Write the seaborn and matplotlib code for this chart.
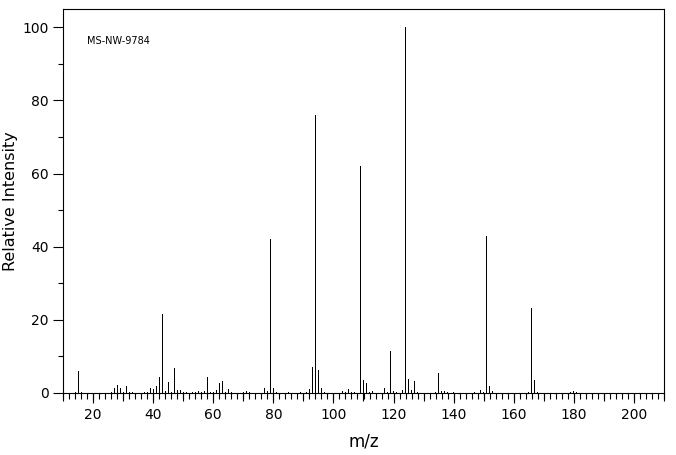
import numpy as np
import pandas as pd
import matplotlib
matplotlib.use("Agg")
import matplotlib.pyplot as plt
import seaborn as sns
from matplotlib.ticker import MultipleLocator

# peak list (m/z, relative intensity %)
mz = [14, 15, 16, 26, 27, 28, 29, 30, 31, 32, 33, 37, 38, 39, 40, 41, 42, 43,
      44, 45, 46, 47, 48, 49, 50, 51, 53, 54, 55, 56, 57, 58, 59, 60, 61, 62,
      63, 64, 65, 66, 70, 71, 72, 77, 78, 79, 80, 81, 85, 89, 91, 92, 93, 94,
      95, 96, 97, 103, 104, 105, 106, 107, 109, 110, 111, 112, 113, 117, 118,
      119, 120, 121, 123, 124, 125, 126, 127, 128, 134, 135, 136, 137, 138,
      140, 147, 149, 150, 151, 152, 153, 165, 166, 167, 168, 179, 180, 181]
intensity = [0.3, 6.0, 0.3, 0.2, 1.4, 2.1, 1.5, 0.2, 1.8, 0.2, 0.2, 0.2, 0.2,
             1.5, 1.1, 1.9, 4.5, 21.5, 0.5, 2.9, 0.2, 6.7, 0.7, 0.7, 0.2, 0.2,
             0.2, 0.2, 0.5, 0.2, 0.5, 4.5, 0.2, 0.2, 0.7, 2.6, 3.2, 0.2, 1.0,
             0.2, 0.2, 0.5, 0.2, 1.5, 0.5, 42.0, 1.3, 0.2, 0.2, 0.2, 0.2, 1.0,
             7.0, 76.0, 6.2, 1.5, 0.2, 0.5, 0.2, 1.0, 0.2, 0.2, 62.0, 3.5, 2.6,
             0.2, 0.5, 1.5, 0.2, 11.6, 0.5, 0.2, 0.7, 100.0, 3.7, 0.7, 3.2,
             0.2, 0.2, 5.4, 0.5, 0.5, 0.2, 0.2, 0.2, 0.7, 0.2, 43.0, 1.8, 0.5,
             0.2, 23.2, 3.5, 0.2, 0.2, 0.5, 0.2]
sample_id = "MS-NW-9784"

sns.set_style("ticks")
plt.rcParams['font.family'] = ['DejaVu Sans']
plt.rcParams['axes.edgecolor'] = 'black'
plt.rcParams['axes.labelcolor'] = 'black'
plt.rcParams['text.color'] = 'black'
plt.rcParams['xtick.color'] = 'black'
plt.rcParams['ytick.color'] = 'black'

df = pd.DataFrame({"mz": mz, "intensity": intensity})

fig = plt.figure(figsize=(6.76, 4.55), dpi=100)
ax = fig.add_axes([63/676, 62/455, 601/676, 384/455])

# 1 px wide crisp sticks
sns.barplot(data=df, x="mz", y="intensity", native_scale=True, width=0.34,
            color="black", saturation=1, linewidth=0, antialiased=False,
            errorbar=None, ax=ax)

ax.set_xlim(10, 210)
ax.set_ylim(0, 105)
for sp in ax.spines.values():
    sp.set_linewidth(0.8)

# x ticks: labelled every 20, medium every 10, small every 2
ax.xaxis.set_major_locator(MultipleLocator(20))
ax.xaxis.set_minor_locator(MultipleLocator(2))
ax.tick_params(axis='x', which='major', length=7.5, width=0.8, pad=3, labelsize=10)
ax.tick_params(axis='x', which='minor', length=4, width=0.8)
sec = ax.secondary_xaxis('bottom')
sec.set_xticks(np.arange(10, 211, 10))
sec.tick_params(length=5.4, width=0.8, labelbottom=False)
sec.spines['bottom'].set_visible(False)

ax.yaxis.set_major_locator(MultipleLocator(20))
ax.yaxis.set_minor_locator(MultipleLocator(10))
ax.tick_params(axis='y', which='major', length=7.2, width=0.8, pad=3, labelsize=10)
ax.tick_params(axis='y', which='minor', length=3.6, width=0.8)

ax.set_xlabel("m/z", fontsize=12, labelpad=8)
ax.set_ylabel("Relative Intensity", fontsize=11.5, labelpad=3)

ax.text(0.04, 0.917, sample_id, transform=ax.transAxes, fontsize=7,
        va='center', ha='left')

fig.savefig("out.png", dpi=100)
